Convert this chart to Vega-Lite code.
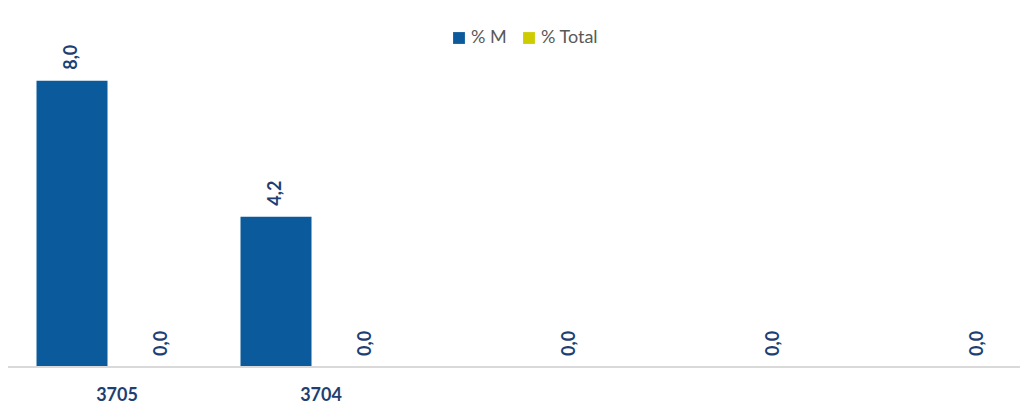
{
  "$schema": "https://vega.github.io/schema/vega-lite/v6.json",
  "width": 1012,
  "height": 322,
  "autosize": {"type": "none"},
  "padding": {"left": 8, "right": 0, "top": 45, "bottom": 37},
  "background": "white",
  "config": {
    "view": {"stroke": null},
    "locale": {"number": {"decimal": ",", "thousands": ".", "grouping": [3], "currency": ["", "€"]}},
    "font": "Lato"
  },
  "data": {
    "values": [
      {"cat": "3705", "series": "% M", "value": 8.0},
      {"cat": "3705", "series": "% Total", "value": 0.0},
      {"cat": "3704", "series": "% M", "value": 4.2},
      {"cat": "3704", "series": "% Total", "value": 0.0},
      {"cat": "c3", "series": "% Total", "value": 0.0},
      {"cat": "c4", "series": "% Total", "value": 0.0},
      {"cat": "c5", "series": "% Total", "value": 0.0}
    ]
  },
  "encoding": {
    "x": {
      "field": "cat",
      "type": "nominal",
      "sort": ["3705", "3704", "c3", "c4", "c5"],
      "scale": {"range": [7, 1027], "paddingInner": 0, "paddingOuter": 0},
      "axis": {
        "title": null,
        "domain": false,
        "ticks": false,
        "labelAngle": 0,
        "labelPadding": 19,
        "labelFontSize": 18,
        "labelFontWeight": "bold",
        "labelColor": "#1F3F73",
        "labelFont": "Lato",
        "labelExpr": "indexof(['3705','3704'], datum.value) >= 0 ? datum.value : ''"
      }
    },
    "xOffset": {
      "field": "series",
      "type": "nominal",
      "sort": ["% M", "% Total"],
      "scale": {"paddingInner": 0.211, "paddingOuter": 0.239}
    },
    "y": {
      "field": "value",
      "type": "quantitative",
      "scale": {"domain": [0, 9]},
      "axis": null
    }
  },
  "layer": [
    {
      "mark": {"type": "bar"},
      "encoding": {
        "color": {
          "field": "series",
          "type": "nominal",
          "sort": ["% M", "% Total"],
          "scale": {"domain": ["% M", "% Total"], "range": ["#0B5A9C", "#CCCC00"]},
          "legend": {
            "title": null,
            "orient": "none",
            "direction": "horizontal",
            "legendX": 442,
            "legendY": -16,
            "padding": 0,
            "symbolType": "square",
            "symbolSize": 140,
            "symbolStrokeWidth": 0,
            "labelFontSize": 18,
            "labelColor": "#595959",
            "labelFont": "Lato",
            "labelOffset": 3,
            "columnPadding": 13
          }
        }
      }
    },
    {
      "mark": {
        "type": "text",
        "angle": 270,
        "align": "left",
        "baseline": "middle",
        "dx": 11,
        "fontSize": 18,
        "fontWeight": "bold",
        "color": "#1F3F73",
        "font": "Lato"
      },
      "encoding": {
        "text": {"field": "value", "type": "quantitative", "format": ".1f"}
      }
    },
    {
      "data": {"values": [{"v": 0}]},
      "mark": {"type": "rule", "color": "#D9D9D9", "strokeWidth": 2},
      "encoding": {
        "y": {"field": "v", "type": "quantitative"},
        "x": null,
        "xOffset": null
      }
    }
  ]
}
